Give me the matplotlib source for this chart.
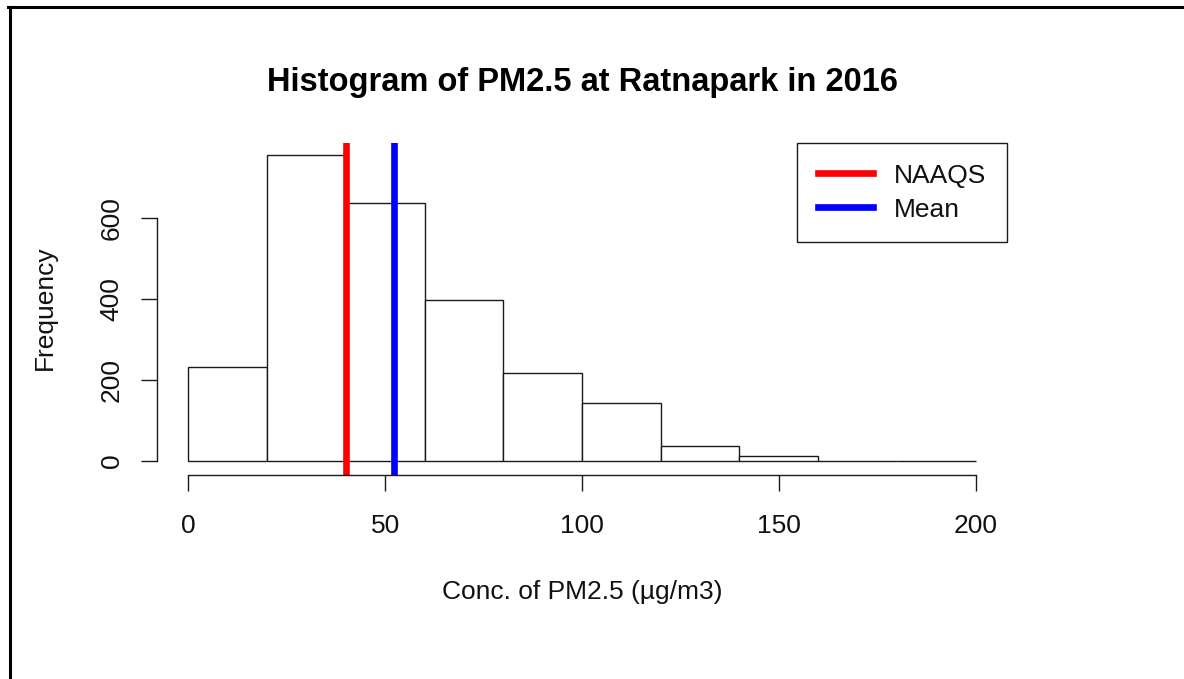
import numpy as np
import matplotlib
matplotlib.use("Agg")
import matplotlib.pyplot as plt
from matplotlib.lines import Line2D

# histogram of hourly PM2.5, 20 ug/m3 bins
bin_edges = [0, 20, 40, 60, 80, 100, 120, 140, 160, 180, 200]
counts = [233, 757, 638, 397, 216, 144, 37, 12, 0, 0]
naaqs = 40
mean_val = 52.3

x_ticks = [0, 50, 100, 150, 200]
y_ticks = [0, 200, 400, 600]

plt.rcParams['font.family'] = ['Liberation Sans', 'DejaVu Sans']

W, H = 1184, 679
fig = plt.figure(figsize=(W / 100, H / 100), dpi=100)
ax = fig.add_axes([157 / W, 1 - 475 / H, (1007 - 157) / W, (475 - 143) / H])

lefts = np.array(bin_edges[:-1])
widths = np.diff(bin_edges)
ax.bar(lefts, counts, width=widths, align='edge', facecolor='white',
       edgecolor='#1a1a1a', linewidth=1.0)

ax.axvline(naaqs, color='red', lw=4.8, label='NAAQS')
ax.axvline(mean_val, color='blue', lw=4.8, label='Mean')

ax.set_xlim(-8, 208)
ax.set_ylim(-35, 786)

# R-style axes: lines limited to tick range
for s in ['top', 'right']:
    ax.spines[s].set_visible(False)
ax.spines['bottom'].set_bounds(x_ticks[0], x_ticks[-1])
ax.spines['left'].set_bounds(y_ticks[0], y_ticks[-1])
for s in ['bottom', 'left']:
    ax.spines[s].set_linewidth(1.0)
    ax.spines[s].set_color('#1a1a1a')

ax.set_xticks(x_ticks)
ax.set_xticklabels([str(v) for v in x_ticks])
ax.set_yticks(y_ticks)
ax.set_yticklabels([str(v) for v in y_ticks], rotation=90, va='center')
ax.tick_params(axis='both', length=11.5, width=1.0, color='#1a1a1a',
               labelsize=19, labelcolor='#111111')
ax.tick_params(axis='x', pad=16.5)
ax.tick_params(axis='y', pad=12.5)

leg = ax.legend(loc='upper right', borderaxespad=0, fontsize=19,
                fancybox=False, framealpha=1, edgecolor='#1a1a1a',
                handlelength=2.1, handletextpad=0.8, borderpad=0.78,
                labelspacing=0.38)
leg.get_frame().set_linewidth(1.0)
for t in leg.get_texts():
    t.set_color('#111111')

fig.text(582 / W, 1 - 91 / H, 'Histogram of PM2.5 at Ratnapark in 2016',
         ha='center', va='baseline', fontsize=23.5, fontweight='bold')
fig.text(582 / W, 1 - 592 / H, 'Conc. of PM2.5 (\u00b5g/m3)',
         ha='center', va='center', fontsize=19, color='#111111')
fig.text(45 / W, 1 - 308 / H, 'Frequency', rotation=90,
         ha='center', va='center', fontsize=19, color='#111111')

# screenshot frame (top and left edges)
fig.add_artist(Line2D([8 / W, 1], [1 - 6.5 / H, 1 - 6.5 / H],
                      color='black', lw=2.2, transform=fig.transFigure))
fig.add_artist(Line2D([9.5 / W, 9.5 / W], [0, 1 - 6.5 / H],
                      color='black', lw=2.2, transform=fig.transFigure))

fig.savefig('out.png', dpi=100)
